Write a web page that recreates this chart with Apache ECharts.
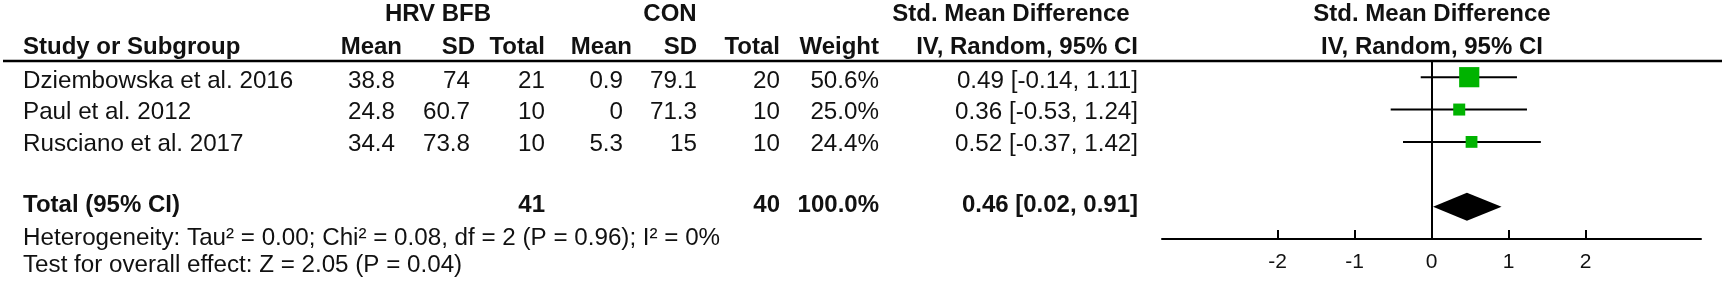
<!DOCTYPE html>
<html><head><meta charset="utf-8">
<script src="https://cdn.jsdelivr.net/npm/echarts@6/dist/echarts.min.js"></script>
<style>html,body{margin:0;padding:0;background:#fff}#c{width:1725px;height:293px}</style>
</head><body><div id="c"></div>
<script>
// ---- data ----
const studies = ['Dziembowska et al. 2016', 'Paul et al. 2012', 'Rusciano et al. 2017'];
const expMean = [38.8, 24.8, 34.4];
const expSD = [74, 60.7, 73.8];
const expN = [21, 10, 10];
const conMean = [0.9, 0, 5.3];
const conSD = [79.1, 71.3, 15];
const conN = [20, 10, 10];
const weights = [50.6, 25.0, 24.4];
const smd = [0.49, 0.36, 0.52];
const ciLow = [-0.14, -0.53, -0.37];
const ciHigh = [1.11, 1.24, 1.42];
const totalLabel = 'Total (95% CI)';
const totalExpN = 41;
const totalConN = 40;
const totalWeight = 100.0;
const totalSmd = 0.46;
const totalLow = 0.02;
const totalHigh = 0.91;
const footnotes = ['Heterogeneity: Tau\u00b2 = 0.00; Chi\u00b2 = 0.08, df = 2 (P = 0.96); I\u00b2 = 0%',
                   'Test for overall effect: Z = 2.05 (P = 0.04)'];
const tickValues = [-2, -1, 0, 1, 2];
const groupHeaders = ['HRV BFB', 'CON', 'Std. Mean Difference', 'Std. Mean Difference'];
const colHeaders = ['Study or Subgroup', 'Mean', 'SD', 'Total', 'Mean', 'SD', 'Total', 'Weight', 'IV, Random, 95% CI', 'IV, Random, 95% CI'];

// ---- layout / style ----
const FONT = "'Liberation Sans', Arial, sans-serif";
const TXT = '#111';
const GREEN = '#00b300';
const FS = 24.2, FSB = 24;
const rowIdx = studies.map((_, i) => i + 1);
const totalRow = 5;
const dataX = [23, 395, 470, 545, 623, 697, 780, 879, 1138];
const dataAlign = ['left', 'right', 'right', 'right', 'right', 'right', 'right', 'right', 'right'];
const headX = [23, 402, 475, 545, 632, 697, 780, 879, 1138, 1432];
const headAlign = ['left', 'right', 'right', 'right', 'right', 'right', 'right', 'right', 'right', 'center'];
const groupX = [438, 670, 1011, 1432];
const headY = [14.5, 47];
const rowY = [81, 112.5, 144];
const totalY = 205;
const footY = [238, 265];

const fmtCI = (m, l, h) => `${m.toFixed(2)} [${l.toFixed(2)}, ${h.toFixed(2)}]`;

const g = [];
function txt(text, x, y, align, bold) {
  g.push({type: 'text', x: x, y: y, silent: true,
    style: {text: String(text), fill: TXT, align: align, verticalAlign: 'middle',
      font: `${bold ? 'bold ' : ''}${bold ? FSB : FS}px ${FONT}`}});
}
groupHeaders.forEach((t, i) => txt(t, groupX[i], headY[0], 'center', true));
colHeaders.forEach((t, i) => txt(t, headX[i], headY[1], headAlign[i], true));
studies.forEach((s, i) => {
  const vals = [s, expMean[i], expSD[i], expN[i], conMean[i], conSD[i], conN[i],
    weights[i].toFixed(1) + '%', fmtCI(smd[i], ciLow[i], ciHigh[i])];
  vals.forEach((v, j) => txt(v, dataX[j], rowY[i], dataAlign[j], false));
});
txt(totalLabel, dataX[0], totalY, 'left', true);
txt(totalExpN, dataX[3], totalY, 'right', true);
txt(totalConN, dataX[6], totalY, 'right', true);
txt(totalWeight.toFixed(1) + '%', dataX[7], totalY, 'right', true);
txt(fmtCI(totalSmd, totalLow, totalHigh), dataX[8], totalY, 'right', true);
footnotes.forEach((f, i) => txt(f, dataX[0], footY[i], 'left', false));
// header rule
g.push({type: 'line', silent: true, shape: {x1: 3, y1: 61, x2: 1722, y2: 61},
  style: {stroke: '#000', lineWidth: 2.5}});

const chart = echarts.init(document.getElementById('c'), null, {renderer: 'canvas'});
chart.setOption({
  animation: false,
  backgroundColor: '#fff',
  grid: {left: 1162, right: 24, top: 61, bottom: 54},
  xAxis: {
    type: 'value', min: -3.5, max: 3.5,
    splitLine: {show: false},
    axisLine: {show: true, onZero: false, lineStyle: {color: '#000', width: 2}},
    axisTick: {show: true, inside: true, length: 9, customValues: tickValues, lineStyle: {color: '#000', width: 2}},
    axisLabel: {show: true, customValues: tickValues, margin: 13, color: TXT, fontSize: 21, fontFamily: FONT}
  },
  yAxis: {type: 'value', min: 0.5, max: 6, inverse: true, show: false, splitLine: {show: false}},
  series: [
    {
      type: 'custom', name: 'ci', z: 2,
      data: studies.map((s, i) => [ciLow[i], ciHigh[i], rowIdx[i]]),
      renderItem: (params, api) => {
        const a = api.coord([api.value(0), api.value(2)]);
        const b = api.coord([api.value(1), api.value(2)]);
        return {type: 'line', shape: {x1: a[0], y1: a[1], x2: b[0], y2: b[1]},
          style: {stroke: '#000', lineWidth: 2}};
      }
    },
    {
      type: 'scatter', name: 'smd', z: 3,
      symbol: 'rect',
      data: studies.map((s, i) => [smd[i], rowIdx[i], weights[i]]),
      symbolSize: (v) => 4 + 0.32 * v[2],
      itemStyle: {color: GREEN, opacity: 1},
      markLine: {
        silent: true, symbol: 'none', label: {show: false},
        lineStyle: {color: '#000', width: 2, type: 'solid'},
        data: [{xAxis: 0}]
      }
    },
    {
      type: 'custom', name: 'total', z: 3,
      data: [[totalLow, totalSmd, totalHigh, totalRow]],
      renderItem: (params, api) => {
        const r = api.value(3);
        const l = api.coord([api.value(0), r]);
        const m = api.coord([api.value(1), r]);
        const h = api.coord([api.value(2), r]);
        const hh = 14;
        return {type: 'polygon', shape: {points: [[l[0], l[1]], [m[0], m[1] - hh], [h[0], h[1]], [m[0], m[1] + hh]]},
          style: {fill: '#000'}};
      }
    }
  ],
  graphic: g
});
</script>
</body></html>
